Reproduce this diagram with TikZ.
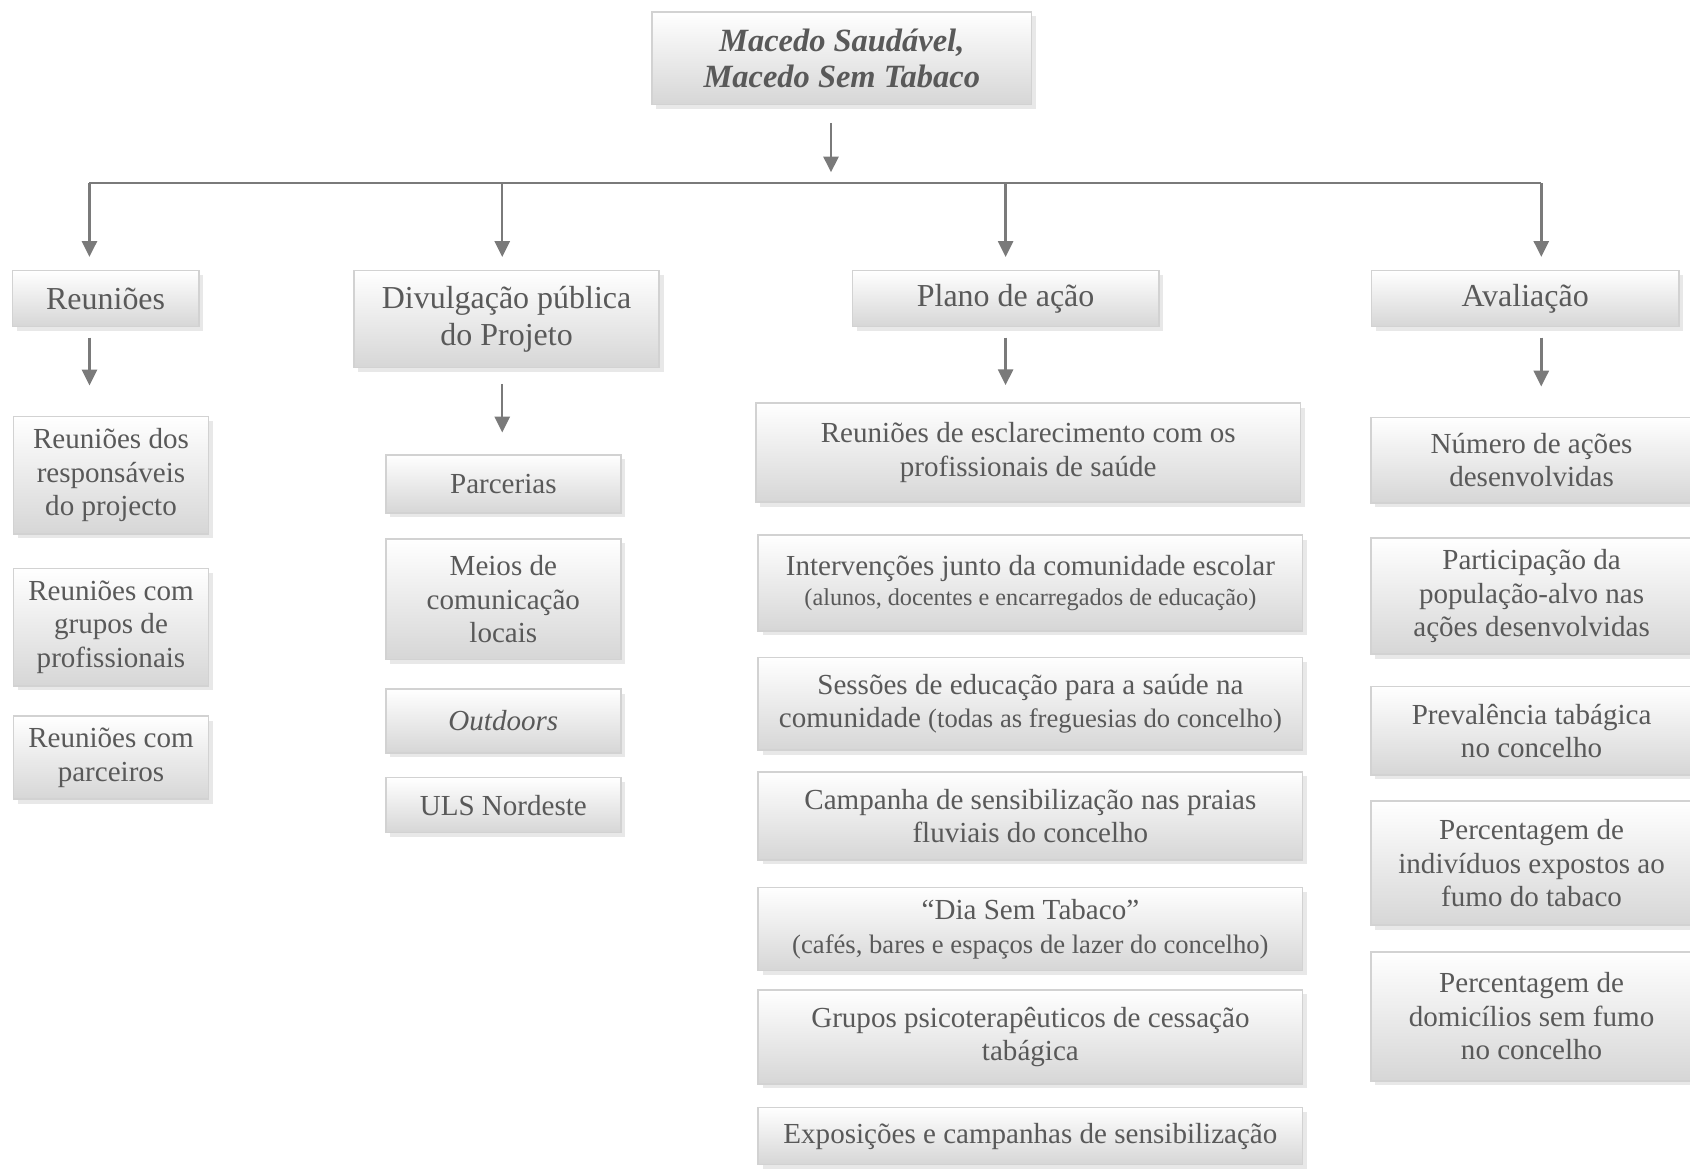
\documentclass[tikz,border=0pt]{standalone}
\usepackage{fontspec}
\setmainfont{Liberation Serif}
\usetikzlibrary{positioning, arrows.meta, shadows}
\definecolor{textgray}{HTML}{595959}
\definecolor{linegray}{HTML}{7A7A7A}
\definecolor{boxline}{HTML}{D2D2D2}

\begin{document}
\begin{tikzpicture}[x=0.445pt, y=-0.445pt]
        % Define styles for shapes
        \tikzstyle{box} = [draw=boxline, line width=0.7pt, top color=white, bottom color=black!16, general shadow={fill=black!9, shadow xshift=1.8pt, shadow yshift=-1.8pt}, inner sep=0pt, align=center, text=textgray, font=\fontsize{12}{13.8}\selectfont]
        \tikzstyle{headbox} = [box, font=\fontsize{13.2}{15.1}\selectfont]
        \tikzstyle{arrow} = [draw=linegray, line width=1pt, -{Triangle[width=6.2pt, length=6.5pt]}]
        \tikzstyle{busline} = [draw=linegray, line width=1pt]
        \useasboundingbox (0,0) rectangle (1568,1086);
        % Draw shapes
        \node[box, minimum width=156.6pt, minimum height=38.3pt, font=\fontsize{13.4}{15.1}\selectfont\bfseries\itshape] (title) at (781,54) {Macedo Saudável,\\Macedo Sem Tabaco};

        % first level
        \node[headbox, minimum width=77pt, minimum height=23.1pt] (reu) at (98,277) {Reuniões};
        \node[headbox, minimum width=126pt, minimum height=40pt] (div) at (470,296) {Divulgação pública\\do Projeto};
        \node[headbox, minimum width=126.4pt, minimum height=23.1pt] (plano) at (933,277) {Plano de ação};
        \node[headbox, minimum width=126.8pt, minimum height=23.1pt] (aval) at (1415,277) {Avaliação};

        % Reuniões
        \node[box, minimum width=80.5pt, minimum height=48.5pt] (reu1) at (103,441) {Reuniões dos\\responsáveis\\do projecto};
        \node[box, minimum width=80.5pt, minimum height=48.5pt] (reu2) at (103,582) {Reuniões com\\grupos de\\profissionais};
        \node[box, minimum width=80.5pt, minimum height=34.3pt] (reu3) at (103,703) {Reuniões com\\parceiros};

        % Divulgação
        \node[box, minimum width=97pt, minimum height=24pt] (div1) at (467,449) {Parcerias};
        \node[box, minimum width=97pt, minimum height=49.8pt] (div2) at (467,556) {Meios de\\comunicação\\locais};
        \node[box, minimum width=97pt, minimum height=26.3pt] (div3) at (467,669) {\textit{Outdoors}};
        \node[box, minimum width=97pt, minimum height=22.7pt] (div4) at (467,747) {ULS Nordeste};

        % Plano de ação
        \node[box, minimum width=224.7pt, minimum height=40.9pt] (plano1) at (954,420) {Reuniões de esclarecimento com os\\profissionais de saúde};
        \node[box, minimum width=224.7pt, minimum height=39.6pt] (plano2) at (956,541) {Intervenções junto da comunidade escolar\\[-1.3pt]{\fontsize{10}{12}\selectfont(alunos, docentes e encarregados de educação)}};
        \node[box, minimum width=224.7pt, minimum height=38.3pt] (plano3) at (956,653) {Sessões de educação para a saúde na\\comunidade {\fontsize{11}{13}\selectfont(todas as freguesias do concelho)}};
        \node[box, minimum width=224.7pt, minimum height=36.5pt] (plano4) at (956,757) {Campanha de sensibilização nas praias\\fluviais do concelho};
        \node[box, minimum width=224.7pt, minimum height=34.3pt] (plano5) at (956,862) {“Dia Sem Tabaco”\\{\fontsize{11}{13}\selectfont(cafés, bares e espaços de lazer do concelho)}};
        \node[box, minimum width=224.7pt, minimum height=38.7pt] (plano6) at (956,962) {Grupos psicoterapêuticos de cessação\\tabágica};
        \node[box, minimum width=224.7pt, minimum height=23.6pt] (plano7) at (956,1054) {Exposições e campanhas de sensibilização};

        % Avaliação
        \node[box, minimum width=132.6pt, minimum height=35.2pt] (aval1) at (1421,427) {Número de ações\\desenvolvidas};
        \node[box, minimum width=132.6pt, minimum height=48pt] (aval2) at (1421,553) {Participação da\\população-alvo nas\\ações desenvolvidas};
        \node[box, minimum width=132.6pt, minimum height=36.5pt] (aval3) at (1421,678) {Prevalência tabágica\\no concelho};
        \node[box, minimum width=132.6pt, minimum height=51.2pt] (aval4) at (1421,801) {Percentagem de\\indivíduos expostos ao\\fumo do tabaco};
        \node[box, minimum width=132.6pt, minimum height=53.4pt] (aval5) at (1421,943) {Percentagem de\\domicílios sem fumo\\no concelho};

        % bus line under the title
        \coordinate (bus) at (771,170);
        \coordinate (busA) at (83,170);
        \coordinate (busB) at (466,170);
        \coordinate (busC) at (933,170);
        \coordinate (busD) at (1430,170);

        % Draw arrows
        \draw[arrow, shorten <=7.2pt, shorten >=4.5pt] (title.south -| bus) -- (bus);
        \draw[busline] (busA) -- (busD);
        \draw[arrow, shorten >=5.3pt] (busA) -- (busA |- reu.north);
        \draw[arrow, shorten >=5.3pt] (busB) -- (busB |- div.north);
        \draw[arrow, shorten >=5.3pt] (busC) -- (busC |- plano.north);
        \draw[arrow, shorten >=5.3pt] (busD) -- (busD |- aval.north);
        \draw[arrow, shorten <=4.2pt, shorten >=12.5pt] (busA |- reu.south) -- (busA |- reu1.north);
        \draw[arrow, shorten <=6.4pt, shorten >=8.9pt] (busB |- div.south) -- (busB |- div1.north);
        \draw[arrow, shorten <=4.2pt, shorten >=7.1pt] (busC |- plano.south) -- (busC |- plano1.north);
        \draw[arrow, shorten <=4.2pt, shorten >=12.5pt] (busD |- aval.south) -- (busD |- aval1.north);
    \end{tikzpicture}
\end{document}
